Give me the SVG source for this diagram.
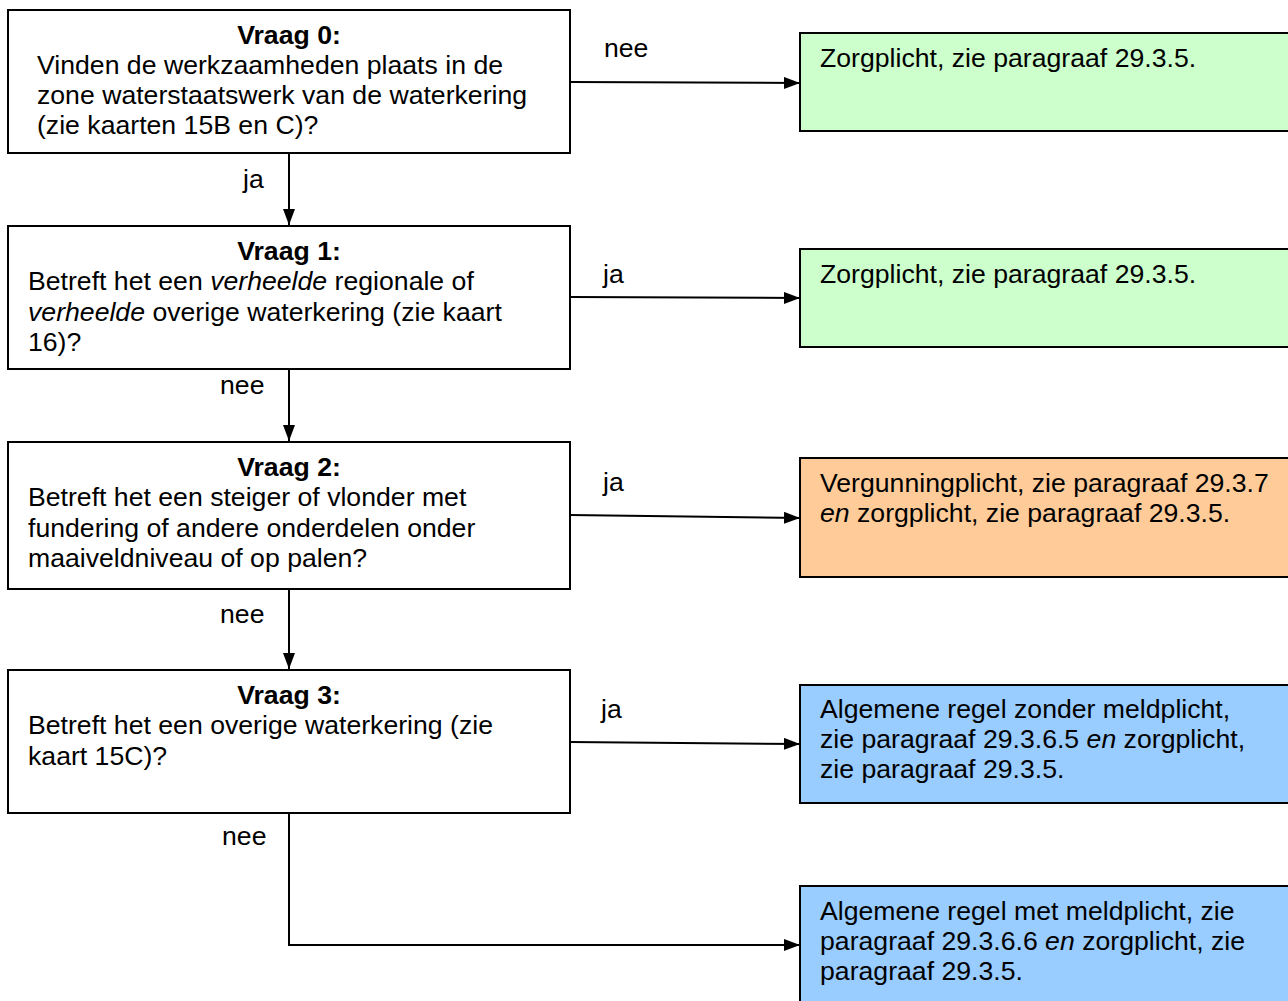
<svg xmlns="http://www.w3.org/2000/svg" width="1288" height="1001" viewBox="0 0 1288 1001">
<defs>
<marker id="ah" markerWidth="16" markerHeight="12" refX="16" refY="6" orient="auto" markerUnits="userSpaceOnUse">
<path d="M0,0 L16,6 L0,12 Z" fill="#000"/>
</marker>
<style>
.q{fill:#fff;stroke:#000;stroke-width:2}
.g{fill:#ccffcc;stroke:#000;stroke-width:2}
.o{fill:#ffcc99;stroke:#000;stroke-width:2}
.b{fill:#99ccff;stroke:#000;stroke-width:2}
text{font-family:"Liberation Sans",Arial,sans-serif;font-size:25px;fill:#000}
.t{font-weight:bold;text-anchor:middle}
.c{fill:none;stroke:#000;stroke-width:2;marker-end:url(#ah)}
</style>
</defs>
<rect width="1288" height="1001" fill="#fff"/>
<g id="connectors">
<path class="c" d="M570,82 L800,83"/>
<path class="c" d="M570,297 L800,298"/>
<path class="c" d="M570,515 L800,518"/>
<path class="c" d="M570,742 L800,744"/>
<path class="c" d="M289,153 L289,225"/>
<path class="c" d="M289,369 L289,441"/>
<path class="c" d="M289,589 L289,669"/>
<path class="c" d="M289,813 L289,945 L800,945"/>
<g transform="scale(1.066 1)">
<text x="566.6" y="57">nee</text>
<text x="227.95" y="188">ja</text>
<text x="565.67" y="283">ja</text>
<text x="206.38" y="394">nee</text>
<text x="565.67" y="491">ja</text>
<text x="206.38" y="623">nee</text>
<text x="563.79" y="718">ja</text>
<text x="208.26" y="845">nee</text>
</g>
</g>
<g id="q0">
<rect class="q" x="8" y="10" width="562" height="143"/>
<g transform="scale(1.066 1)">
<text class="t" x="271.11" y="44">Vraag 0:</text>
<text x="34.71" y="74">Vinden de werkzaamheden plaats in de</text>
<text x="34.71" y="104">zone waterstaatswerk van de waterkering</text>
<text x="34.71" y="134">(zie kaarten 15B en C)?</text>
</g>
</g>
<g id="q1">
<rect class="q" x="8" y="226" width="562" height="143"/>
<g transform="scale(1.066 1)">
<text class="t" x="271.11" y="260">Vraag 1:</text>
<text x="26.27" y="290">Betreft het een <tspan font-style="italic">verheelde</tspan> regionale of</text>
<text x="26.27" y="321"><tspan font-style="italic">verheelde</tspan> overige waterkering (zie kaart</text>
<text x="26.27" y="351">16)?</text>
</g>
</g>
<g id="q2">
<rect class="q" x="8" y="442" width="562" height="147"/>
<g transform="scale(1.066 1)">
<text class="t" x="271.11" y="476">Vraag 2:</text>
<text x="26.27" y="506">Betreft het een steiger of vlonder met</text>
<text x="26.27" y="537">fundering of andere onderdelen onder</text>
<text x="26.27" y="567">maaiveldniveau of op palen?</text>
</g>
</g>
<g id="q3">
<rect class="q" x="8" y="670" width="562" height="143"/>
<g transform="scale(1.066 1)">
<text class="t" x="271.11" y="704">Vraag 3:</text>
<text x="26.27" y="734">Betreft het een overige waterkering (zie</text>
<text x="26.27" y="765">kaart 15C)?</text>
</g>
</g>
<g id="r0">
<rect class="g" x="800" y="33" width="500" height="98"/>
<g transform="scale(1.066 1)">
<text x="769.23" y="67">Zorgplicht, zie paragraaf 29.3.5.</text>
</g>
</g>
<g id="r1">
<rect class="g" x="800" y="249" width="500" height="98"/>
<g transform="scale(1.066 1)">
<text x="769.23" y="283">Zorgplicht, zie paragraaf 29.3.5.</text>
</g>
</g>
<g id="r2">
<rect class="o" x="800" y="458" width="500" height="119"/>
<g transform="scale(1.066 1)">
<text x="769.23" y="492">Vergunningplicht, zie paragraaf 29.3.7</text>
<text x="769.23" y="522"><tspan font-style="italic">en</tspan> zorgplicht, zie paragraaf 29.3.5.</text>
</g>
</g>
<g id="r3">
<rect class="b" x="800" y="685" width="500" height="118"/>
<g transform="scale(1.066 1)">
<text x="769.23" y="718">Algemene regel zonder meldplicht,</text>
<text x="769.23" y="748">zie paragraaf 29.3.6.5 <tspan font-style="italic">en</tspan> zorgplicht,</text>
<text x="769.23" y="778">zie paragraaf 29.3.5.</text>
</g>
</g>
<g id="r4">
<rect class="b" x="800" y="886" width="500" height="130"/>
<g transform="scale(1.066 1)">
<text x="769.23" y="920">Algemene regel met meldplicht, zie</text>
<text x="769.23" y="950">paragraaf 29.3.6.6 <tspan font-style="italic">en</tspan> zorgplicht, zie</text>
<text x="769.23" y="980">paragraaf 29.3.5.</text>
</g>
</g>
</svg>
